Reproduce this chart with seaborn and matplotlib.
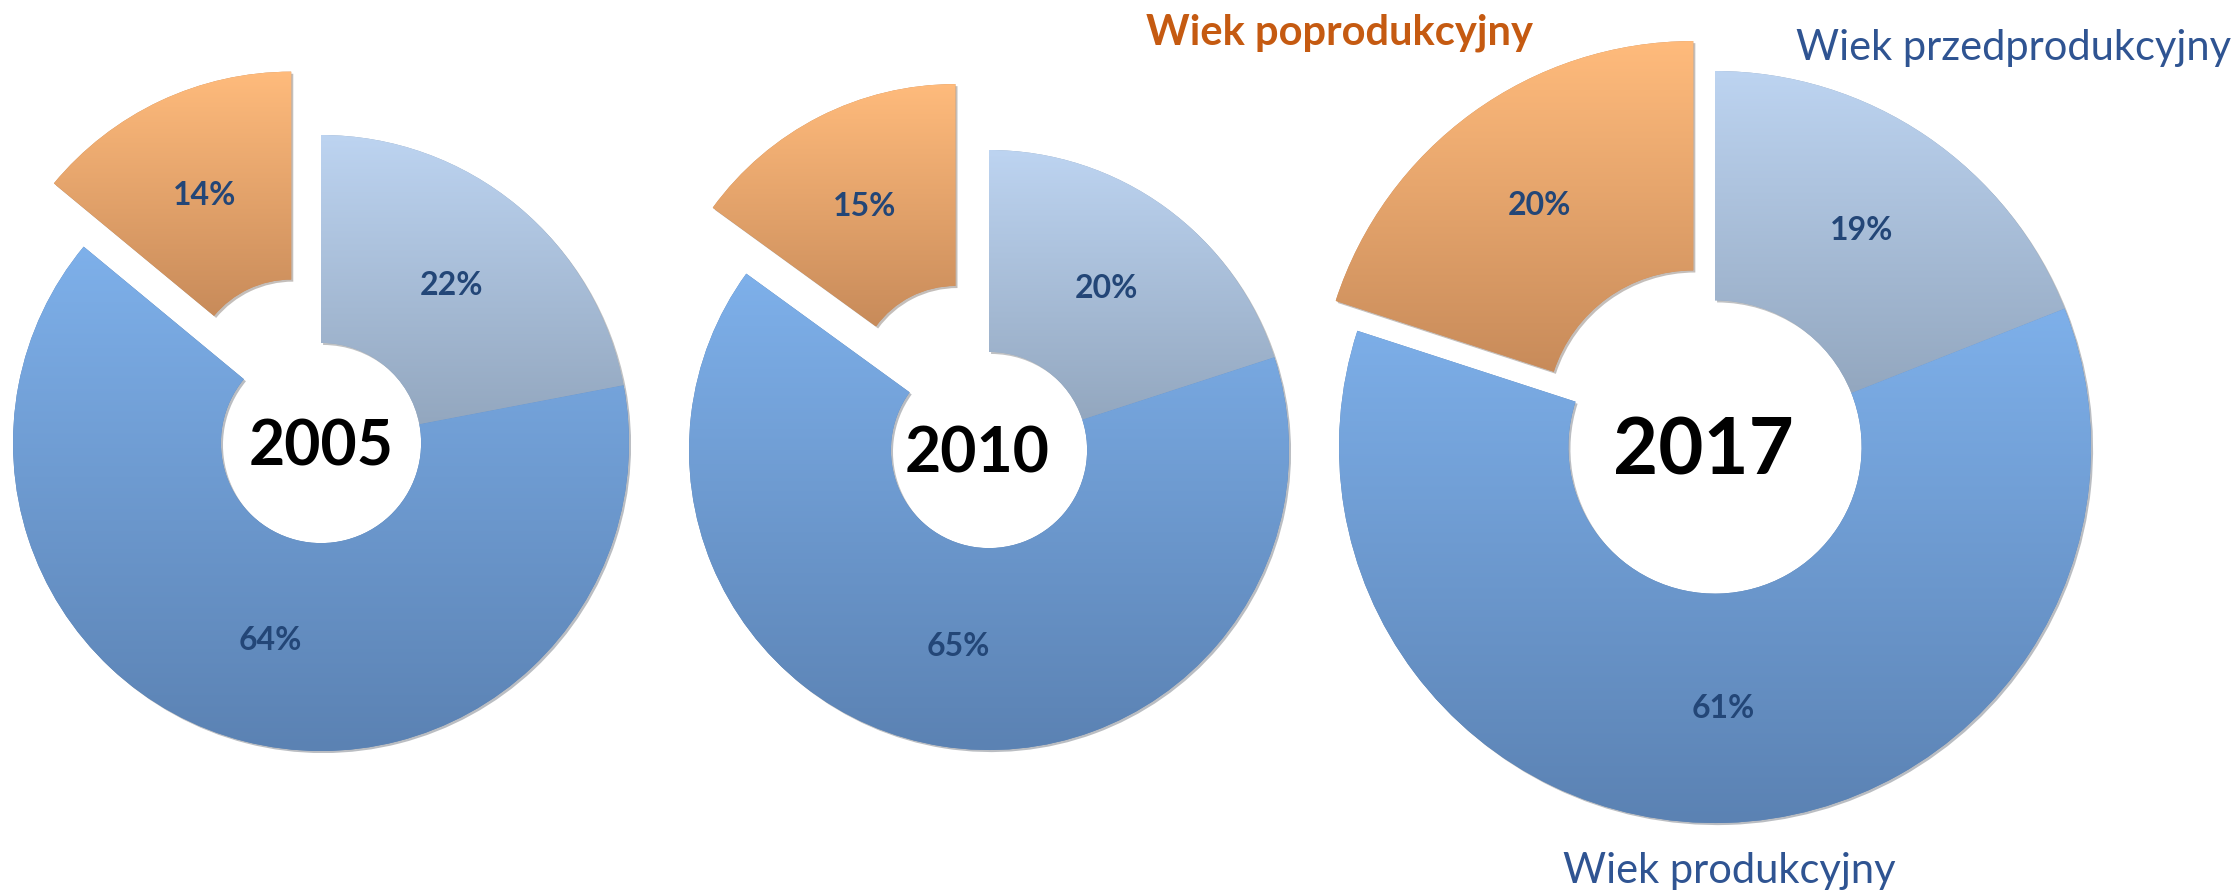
"""Three donut charts: age structure of the population in 2005, 2010 and 2017."""

import numpy as np
import matplotlib
matplotlib.use("Agg")
import matplotlib.pyplot as plt
import matplotlib.patheffects as pe
import seaborn as sns

years = ["2005", "2010", "2017"]
groups = ["Wiek przedprodukcyjny", "Wiek produkcyjny", "Wiek poprodukcyjny"]
pre_working = [22, 20, 19]
working = [64, 65, 61]
post_working = [14, 15, 20]

# vertical gradient (top, bottom) for each group's wedges
grad_colors = [("#BDD4F1", "#93A7BF"), ("#7EB0EA", "#5B82B3"), ("#FFBB7C", "#C88B5A")]
pct_color = "#234677"
name_blue = "#2F5492"
name_orange = "#C55A11"

# layout in pixels, y measured from the top of the picture
W, H = 2235, 893
centers = [(321, 443), (989, 450), (1715, 447)]
radii = [308, 300, 376]
holes = [0.325, 0.327, 0.39]
explode_px = [70, 74, 37]
year_sizes = [45, 45, 56]
year_dx = [0, -12, -12]

sns.set_theme(style="white")
plt.rcParams["font.family"] = ["Lato", "DejaVu Sans"]

fig = plt.figure(figsize=(W / 100, H / 100), dpi=100)
ax = fig.add_axes([0, 0, 1, 1])

for i, year in enumerate(years):
    vals = [pre_working[i], working[i], post_working[i]]
    cx, cy = centers[i][0], H - centers[i][1]
    r = radii[i]
    wedges, _, pcts = ax.pie(
        vals,
        center=(cx, cy),
        radius=r,
        explode=[0, 0, explode_px[i]],
        startangle=90,
        counterclock=False,
        autopct="%.0f%%",
        pctdistance=(1 + holes[i]) / 2,
        wedgeprops=dict(width=r * (1 - holes[i]), linewidth=0),
        textprops=dict(color=pct_color, fontsize=23, fontweight="bold"),
    )

    # gradient fill clipped to each wedge, soft shadow underneath
    for w, (top, bot) in zip(wedges, grad_colors):
        w.set_facecolor(bot)
        w.set_path_effects(
            [pe.SimplePatchShadow(offset=(1.5, -1.5), alpha=0.3), pe.Normal()]
        )
        x0, y0, x1, y1 = w.get_path().get_extents().extents
        cmap = sns.blend_palette([top, bot], n_colors=256, as_cmap=True)
        im = ax.imshow(
            np.linspace(0, 1, 256).reshape(-1, 1),
            cmap=cmap,
            extent=(x0, x1, y0, y1),
            origin="upper",
            aspect="auto",
            interpolation="bilinear",
            zorder=1.5,
        )
        im.set_clip_path(w)

    digit_h = 0.717 * year_sizes[i] * 100 / 72
    ax.text(cx + year_dx[i], cy - digit_h / 2, year, ha="center", va="baseline",
            fontsize=year_sizes[i], fontweight="bold", color="black", zorder=4)

# group names around the 2017 donut
ax.text(1340, H - 45, groups[2], ha="center", va="baseline", fontsize=30,
        fontweight="bold", color=name_orange)
ax.text(2014, H - 60, groups[0], ha="center", va="baseline", fontsize=30,
        color=name_blue)
ax.text(1729, H - 883, groups[1], ha="center", va="baseline", fontsize=30,
        color=name_blue)

ax.set_xlim(0, W)
ax.set_ylim(0, H)
ax.set_aspect("equal")
ax.axis("off")

fig.savefig("out.png", dpi=100)
plt.close(fig)
